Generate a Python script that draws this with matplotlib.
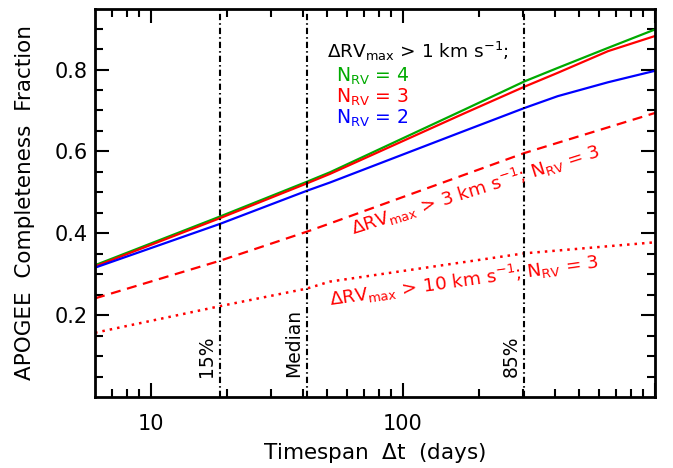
import numpy as np
import matplotlib
matplotlib.use("Agg")
import matplotlib.pyplot as plt
from matplotlib.ticker import FixedLocator, NullFormatter, FixedFormatter

plt.rcParams['font.family'] = ['DejaVu Sans']
plt.rcParams['mathtext.default'] = 'regular'

# Data
t = [6, 18.8, 41.6, 51.3, 175, 303, 411, 651, 1000]
n4 = [0.322, 0.441, 0.526, 0.549, 0.702, 0.771, 0.804, 0.853, 0.898]
n3 = [0.319, 0.437, 0.522, 0.545, 0.693, 0.758, 0.792, 0.845, 0.882]
n2 = [0.316, 0.423, 0.504, 0.524, 0.650, 0.706, 0.735, 0.769, 0.797]
t_b = [6, 18.8, 41.6, 51.3, 303, 1000]
dv3 = [0.241, 0.333, 0.404, 0.424, 0.596, 0.694]
dv10 = [0.157, 0.222, 0.265, 0.282, 0.351, 0.378]
vlines = [18.8, 41.6, 303]
vlabels = ['15%', 'Median', '85%']

fig = plt.figure(figsize=(6.73, 4.68), dpi=100)
ax = fig.add_axes([0.1412, 0.1517, 0.8321, 0.8291])

green = '#00aa00'
red = '#ff0000'
blue = '#0000ff'
ax.plot(t, n4, color=green, lw=1.6)
ax.plot(t, n3, color=red, lw=1.6)
ax.plot(t, n2, color=blue, lw=1.6)
ax.plot(t_b, dv3, color=red, lw=1.6, ls=(0, (4.5, 3)))
ax.plot(t_b, dv10, color=red, lw=1.8, ls=(0, (1, 2)))

for xv, lab in zip(vlines, vlabels):
    ax.axvline(xv, color='black', lw=1.5, ls=(0, (3, 1.5, 0.7, 1.5)))
    ax.text(xv / 1.035, 0.049, lab, rotation=90, ha='right', va='bottom',
            fontsize=13.5, color='black')

ax.set_xscale('log')
ax.set_xlim(6, 1000)
ax.set_ylim(0.0, 0.948)

ax.xaxis.set_major_locator(FixedLocator([10, 100, 1000]))
ax.xaxis.set_major_formatter(FixedFormatter(['10', '100', '']))
minor_x = [7, 8, 9, 20, 30, 40, 50, 60, 70, 80, 90, 200, 300, 400, 500, 600, 700, 800, 900]
ax.xaxis.set_minor_locator(FixedLocator(minor_x))
ax.xaxis.set_minor_formatter(NullFormatter())
ax.yaxis.set_major_locator(FixedLocator([0.2, 0.4, 0.6, 0.8]))
ax.yaxis.set_minor_locator(FixedLocator([0.05, 0.1, 0.15, 0.25, 0.3, 0.35, 0.45, 0.5,
                                         0.55, 0.65, 0.7, 0.75, 0.85, 0.9]))
ax.tick_params(which='both', direction='in', top=True, right=True, width=1.5)
ax.tick_params(which='major', length=10, labelsize=15)
ax.tick_params(axis='x', which='major', pad=12)
ax.tick_params(axis='y', which='major', pad=5)
ax.tick_params(which='minor', length=5.5)
for s in ax.spines.values():
    s.set_linewidth(2.0)

ax.set_xlabel('Timespan  $\\Delta$t  (days)', fontsize=15.5, labelpad=5)
ax.set_ylabel('APOGEE  Completeness  Fraction', fontsize=15.5, labelpad=14)

ax.text(0.414, 0.874, '$\\Delta$RV$_{max}$ > 1 km s$^{-1}$;', transform=ax.transAxes,
        fontsize=13.3, color='black', ha='left', va='baseline')
ax.text(0.430, 0.812, 'N$_{RV}$ = 4', transform=ax.transAxes, fontsize=13.5,
        color=green, ha='left', va='baseline')
ax.text(0.430, 0.758, 'N$_{RV}$ = 3', transform=ax.transAxes, fontsize=13.5,
        color=red, ha='left', va='baseline')
ax.text(0.430, 0.704, 'N$_{RV}$ = 2', transform=ax.transAxes, fontsize=13.5,
        color=blue, ha='left', va='baseline')

ax.text(0.679, 0.535, '$\\Delta$RV$_{max}$ > 3 km s$^{-1}$; N$_{RV}$ = 3',
        transform=ax.transAxes, fontsize=13.3, color=red, ha='center', va='center',
        rotation=17.5)
ax.text(0.659, 0.30, '$\\Delta$RV$_{max}$ > 10 km s$^{-1}$; N$_{RV}$ = 3',
        transform=ax.transAxes, fontsize=13.3, color=red, ha='center', va='center',
        rotation=8)

fig.savefig('out.png', dpi=100)
